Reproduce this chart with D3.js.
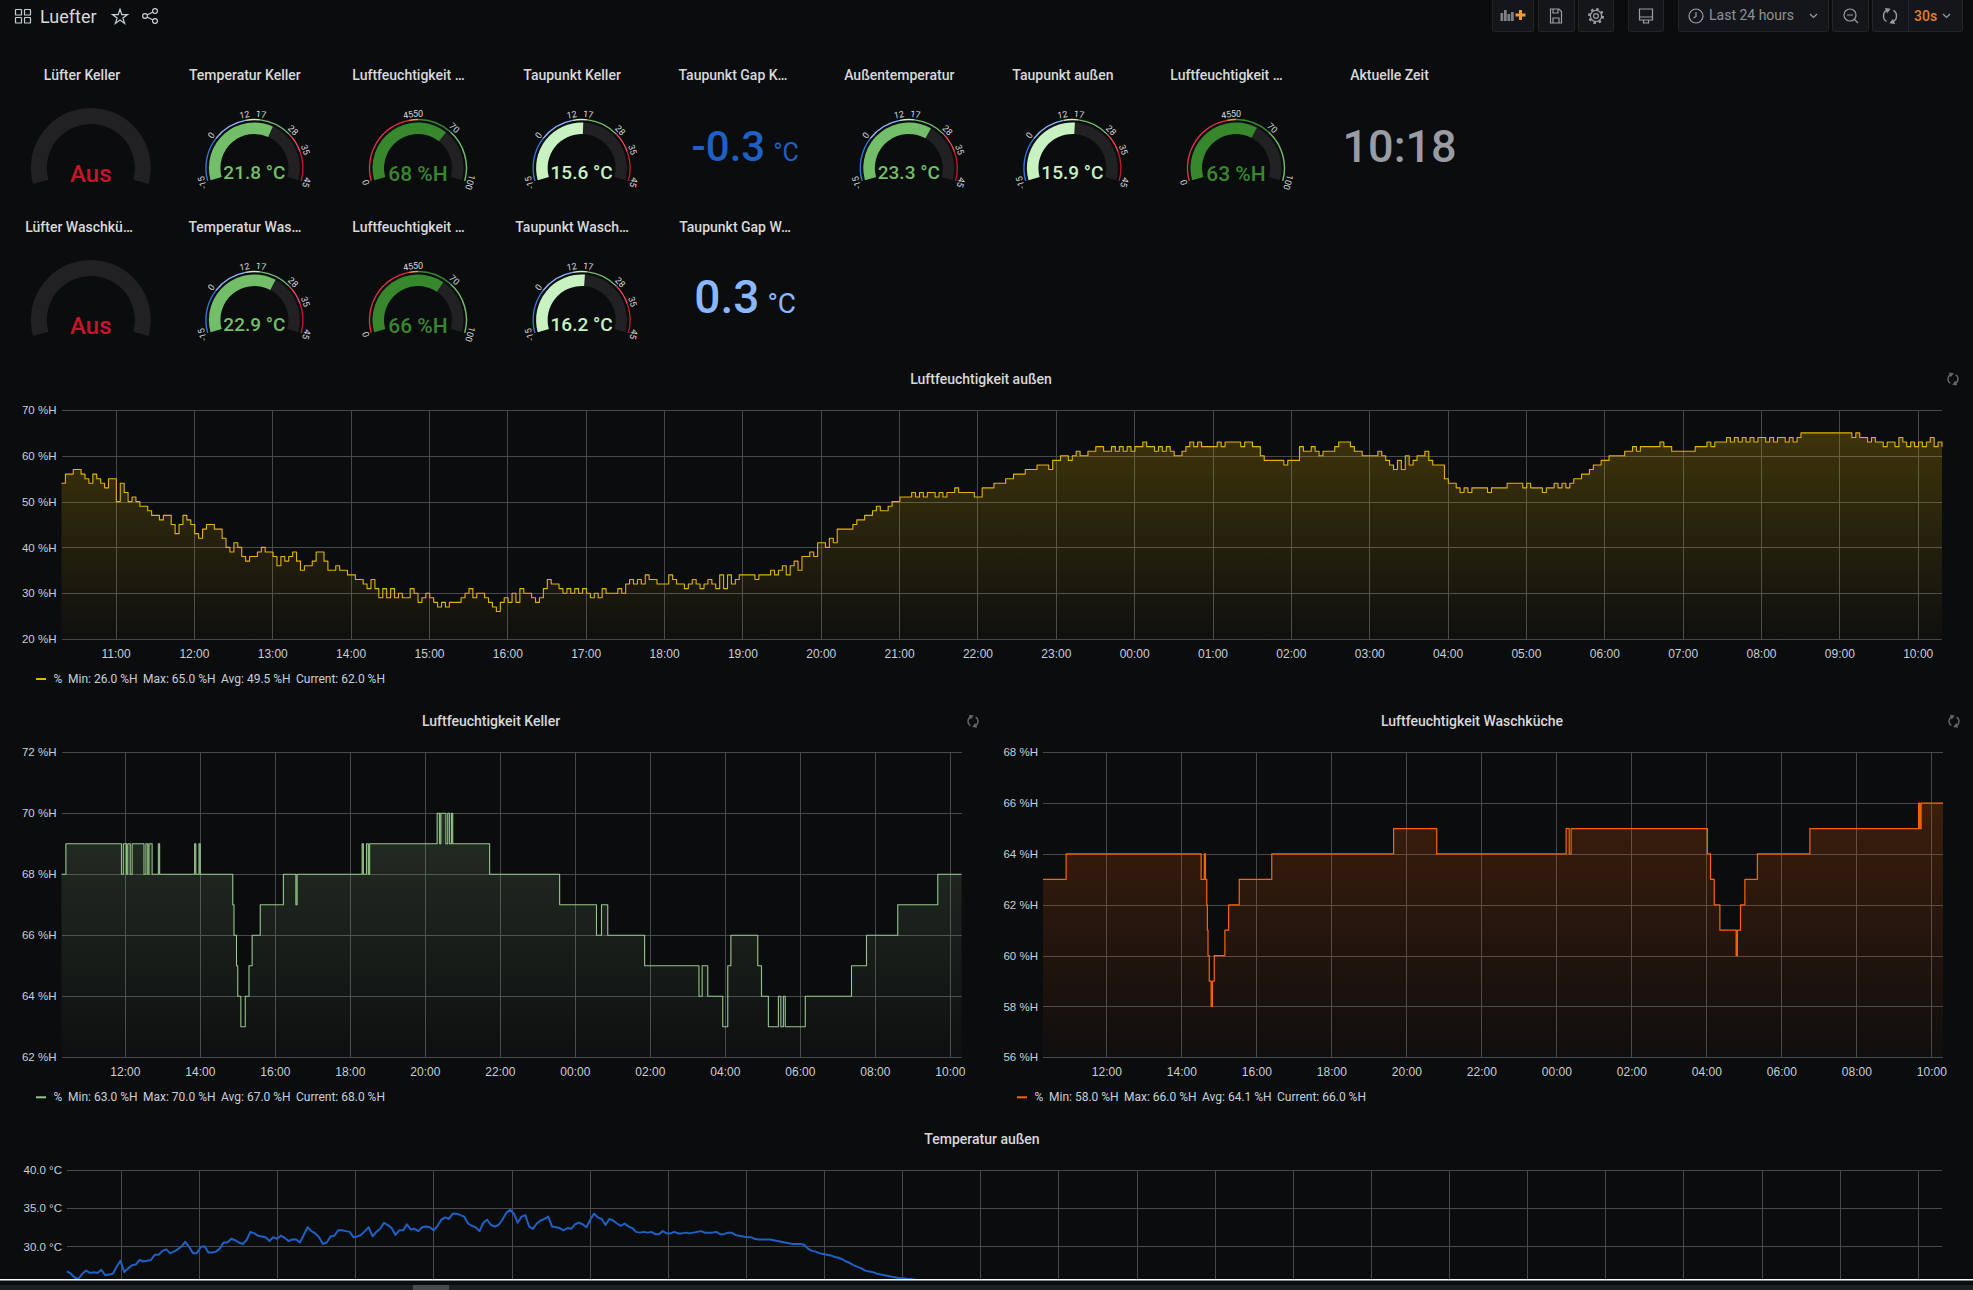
<!DOCTYPE html>
<html>
<head>
<meta charset="utf-8">
<title>Luefter</title>
<script src="https://d3js.org/d3.v7.min.js"></script>
<style>
  html, body { margin: 0; padding: 0; background: #0b0c0e; overflow: hidden; }
  svg { display: block; font-family: Roboto, sans-serif; }
  .grid line { stroke: #47494b; stroke-width: 1; shape-rendering: crispEdges; }
  .grid path { display: none; }
  .grid text { fill: #c7d0d9; font-size: 12px; }
  .grid.left text { font-size: 11.5px; }
</style>
</head>
<body>
<svg id="chart" width="1973" height="1290"></svg>
<script>
//fan gauges
const fanTitles = ["Lüfter Keller", "Lüfter Waschkü…"];
const fanStates = ["Aus", "Aus"];

//value gauges, column and row are the slot in the dashboard grid
const gaugeTitles = ["Temperatur Keller", "Luftfeuchtigkeit …", "Taupunkt Keller", "Außentemperatur", "Taupunkt außen", "Luftfeuchtigkeit …", "Temperatur Was…", "Luftfeuchtigkeit …", "Taupunkt Wasch…"];
const gaugeValues = [21.8, 68, 15.6, 23.3, 15.9, 63, 22.9, 66, 16.2];
const gaugeUnits = ["°C", "%H", "°C", "°C", "°C", "%H", "°C", "%H", "°C"];
const gaugeColumns = [1, 2, 3, 5, 6, 7, 1, 2, 3];
const gaugeRows = [0, 0, 0, 0, 0, 0, 1, 1, 1];

const tempThresholds = [-15, 0, 12, 17, 28, 35, 45];
const tempColors = ["#3274d9", "#8ab8ff", "#c8f2c2", "#73bf69", "#f2495c", "#c4162a"];
const humThresholds = [0, 45, 50, 70, 100];
const humColors = ["#e02f44", "#ff9830", "#37872d", "#73bf69"];

//plain stats
const gapTitles = ["Taupunkt Gap K…", "Taupunkt Gap W…"];
const gapValues = ["-0.3", "0.3"];
const clockTitle = "Aktuelle Zeit";
const clockValue = "10:18";

//legend
const legendLabels = ["Min", "Max", "Avg", "Current"];
const outsideStats = [26.0, 65.0, 49.5, 62.0];
const kellerStats = [63.0, 70.0, 67.0, 68.0];
const waschStats = [58.0, 66.0, 64.1, 66.0];

//Luftfeuchtigkeit außen, one reading every 3 minutes from 10:18
const outsideHumidity = [
  54,56,56,57,57,56,55,54,56,55,54,53,55,55,
  50,54,52,50,51,50,49,49,48,47,47,46,47,47,45,43,45,47,46,45,
  43,42,44,45,45,44,44,42,40,39,41,40,38,37,38,38,39,40,39,39,
  38,36,38,37,38,39,37,35,36,36,37,39,39,37,35,35,36,35,35,34,
  34,33,33,32,31,33,31,29,31,29,31,29,30,29,29,31,30,28,29,30,
  29,28,27,28,27,28,28,28,29,30,31,29,30,30,29,28,27,26,28,29,
  28,30,28,31,30,30,29,28,29,31,33,32,32,31,30,31,30,31,30,31,
  30,29,30,29,31,30,30,30,31,30,32,33,32,33,32,34,33,33,32,32,
  32,34,33,32,32,31,32,33,32,31,32,33,32,31,34,31,34,32,33,34,
  34,34,34,33,34,34,34,35,34,35,36,34,36,37,35,38,38,39,38,41,
  41,40,42,41,44,44,44,44,45,46,46,47,47,48,49,48,48,49,50,50,
  51,51,51,52,51,52,51,52,52,51,52,51,52,52,53,52,52,52,52,51,
  51,53,53,53,54,54,54,55,55,56,56,56,57,57,57,58,58,58,57,59,
  59,60,60,59,60,61,60,60,61,61,62,62,61,61,62,61,62,61,62,61,
  62,62,63,62,62,61,62,61,62,61,60,60,61,62,63,62,63,62,62,62,
  62,63,62,63,63,63,63,62,63,63,62,62,60,59,59,59,59,59,58,59,
  59,59,62,61,61,62,61,60,61,61,61,62,63,63,63,62,61,61,60,60,
  60,60,61,60,59,58,57,59,57,60,58,59,60,60,61,59,58,58,58,55,
  54,54,53,52,53,52,53,53,53,53,52,53,53,53,53,54,54,54,54,53,
  54,53,53,53,52,53,53,54,53,54,53,54,55,55,56,56,57,58,58,59,
  59,60,60,60,60,61,61,62,61,62,62,62,62,62,63,62,62,61,61,61,
  61,61,61,62,62,62,63,62,63,63,63,64,63,64,63,64,63,64,63,64,
  64,63,64,63,64,64,63,64,63,64,65,65,65,65,65,65,65,65,65,65,
  65,65,65,64,65,64,64,63,64,63,63,62,63,63,62,64,63,62,63,62,
  63,62,63,64,62,63,62
];

//Luftfeuchtigkeit Keller, only the changes: minutes after 10:18 and new value
const kellerMinutes = [0,7,96,99,104,106,110,113,132,135,138,140,145,155,157,213,215,220,222,274,276,280,282,287,294,300,305,318,355,375,377,481,483,488,491,493,601,605,607,615,618,621,624,626,685,797,856,864,874,933,1020,1025,1034,1058,1066,1071,1114,1120,1131,1147,1151,1155,1158,1190,1264,1288,1338,1402,1440];
const kellerValues = [68,69,68,69,68,69,68,69,68,69,68,69,68,69,68,69,68,69,68,67,66,65,64,63,64,65,66,67,68,67,68,69,68,69,68,69,70,69,70,69,70,69,70,69,68,67,66,67,66,65,64,65,64,63,65,66,65,64,63,64,63,64,63,64,65,66,67,68,68];

//Luftfeuchtigkeit Waschküche, same layout
const waschMinutes = [0,37,253,258,260,262,263,264,266,269,271,274,291,297,314,366,561,630,837,842,845,1063,1068,1074,1083,1109,1111,1116,1123,1143,1227,1401,1403,1405,1440];
const waschValues = [63,64,63,64,63,62,61,60,59,58,59,60,61,62,63,64,65,64,65,64,65,64,63,62,61,60,61,62,63,64,65,66,65,66,66];

//Temperatur außen, one reading every 176 seconds until it leaves the visible part
const outsideTemp = [
  26.7,26.4,25.9,25.7,26.4,26.8,26.5,26.6,26.5,26.9,26.2,26.3,26.4,27.3,28.1,26.6,27.1,27.5,27.6,28.2,
  28.0,28.1,28.2,28.9,28.9,29.4,29.6,29.1,29.3,29.6,30.0,30.6,29.9,29.1,29.1,29.9,30.0,29.2,29.2,29.3,
  29.7,30.5,30.5,31.0,30.8,30.5,30.3,30.8,31.9,31.7,31.4,31.3,31.2,30.7,31.2,31.0,31.4,31.1,30.7,30.9,
  30.9,30.5,31.5,32.5,32.0,31.7,31.2,30.3,30.5,31.3,31.4,32.1,32.1,32.0,31.9,31.2,31.3,31.5,32.0,32.5,
  31.3,31.9,32.3,33.1,32.8,32.4,31.5,32.1,32.1,32.9,32.2,32.3,32.0,32.5,32.6,32.5,32.1,32.7,33.5,33.8,
  33.6,34.3,34.3,34.1,33.9,33.0,32.7,32.5,32.0,33.1,33.5,32.8,32.6,32.8,33.5,34.4,34.8,34.3,33.1,33.9,
  34.1,32.6,32.3,33.0,33.4,33.6,33.9,32.6,32.5,32.4,32.1,32.4,32.3,32.9,33.1,32.9,32.5,33.5,34.3,33.8,
  33.6,32.8,33.6,33.4,33.0,32.7,33.0,32.6,32.4,31.9,31.8,31.9,31.8,31.9,31.6,31.6,32.0,31.7,31.7,31.9,
  31.7,31.7,31.8,31.7,31.8,31.9,32.0,31.8,31.8,31.8,31.9,31.6,31.6,31.8,31.8,31.5,31.4,31.3,31.2,31.2,
  31.0,30.9,30.9,30.9,30.9,30.8,30.7,30.6,30.5,30.4,30.3,30.3,30.3,30.2,29.7,29.4,29.3,29.1,29.0,28.9,
  28.8,28.6,28.5,28.3,28.0,27.8,27.5,27.3,27.1,26.8,26.7,26.6,26.4,26.3,26.2,26.1,26.0,25.9,25.8,25.8,
  25.7,25.7,25.6,25.5
];

const svg = d3.select("#chart");
const defs = svg.append("defs");

//time range of all the graphs
const start = new Date(2020, 6, 15, 10, 18, 36);
const end = new Date(2020, 6, 16, 10, 18, 36);
const afterStart = (seconds) => new Date(start.getTime() + seconds * 1000);

function titleText(x, y, text) {
  svg.append("text").attr("x", x).attr("y", y).attr("text-anchor", "middle")
    .attr("dominant-baseline", "central")
    .attr("fill", "#d8d9da").attr("font-size", 14).attr("font-weight", 500)
    .text(text);
}

//---- top of the dashboard ----
function iconStroke(g, color = "#9a9ea5") {
  return g.attr("fill", "none").attr("stroke", color).attr("stroke-width", 1.2);
}

function drawHeader() {
  //dashboard grid icon
  const grid = iconStroke(svg.append("g"), "#c7d0d9");
  [[15.5, 9.5], [24.5, 9.5], [15.5, 17.5], [24.5, 17.5]].forEach(([x, y]) => {
    grid.append("rect").attr("x", x).attr("y", y).attr("width", 6).attr("height", 5.5).attr("rx", 0.6);
  });

  svg.append("text").attr("x", 40).attr("y", 22.5).attr("fill", "#d8d9da")
    .attr("font-size", 18).text("Luefter");

  iconStroke(svg.append("path"), "#c7d0d9").attr("transform", "translate(120,17)")
    .attr("d", d3.symbol(d3.symbolStar, 70)());

  //share icon
  const share = iconStroke(svg.append("g").attr("transform", "translate(150,16)"), "#c7d0d9");
  [[-5, 0], [5, -5], [5, 5]].forEach(([x, y]) => share.append("circle").attr("cx", x).attr("cy", y).attr("r", 2.4));
  share.append("path").attr("d", "M-3,-1 L3,-4 M-3,1 L3,4");

  //toolbar boxes
  const boxes = [[1492, 41], [1538, 36], [1578, 35], [1628, 35], [1678, 150], [1832, 36], [1872, 90]];
  boxes.forEach(([x, w]) => {
    svg.append("rect").attr("x", x + 0.5).attr("y", -2).attr("width", w).attr("height", 33.5).attr("rx", 2)
      .attr("fill", "#141619").attr("stroke", "#232529");
  });
  svg.append("line").attr("x1", 1908.5).attr("x2", 1908.5).attr("y1", 0).attr("y2", 31).attr("stroke", "#232529");

  //add panel
  const add = svg.append("g").attr("transform", "translate(1512,16)");
  [[-11.5, -3, 8], [-8, -6, 11], [-4.5, -2, 7], [-1, -4, 9]].forEach(([x, y, h]) => {
    add.append("rect").attr("x", x).attr("y", y).attr("width", 2.7).attr("height", h).attr("fill", "#7f8388");
  });
  add.append("path").attr("d", "M8.5,-6 V4 M3.5,-1 H13.5").attr("stroke", "#f29a35").attr("stroke-width", 3);

  //save
  iconStroke(svg.append("path")).attr("transform", "translate(1556,16)")
    .attr("d", "M-5.5,-7 H3 L5.5,-4.5 V7 H-5.5 Z M-3,-7 V-3 H2 V-7 M-3,7 V2 H3 V7");

  //settings
  const gear = iconStroke(svg.append("g").attr("transform", "translate(1596,16)"));
  gear.append("circle").attr("r", 2.4);
  gear.append("circle").attr("r", 5.6);
  gear.append("circle").attr("r", 7).attr("stroke-dasharray", "2.6 2.9").attr("stroke-width", 2);

  //cycle view mode
  iconStroke(svg.append("path")).attr("transform", "translate(1646,16)")
    .attr("d", "M-6.5,-7 H6.5 V4 H-6.5 Z M-6.5,1 H6.5 M-2.5,4 V7 H2.5 V4");

  //time picker
  const clock = iconStroke(svg.append("g").attr("transform", "translate(1696,16)"));
  clock.append("circle").attr("r", 7);
  clock.append("path").attr("d", "M0,-4 V0.5 L-2.5,2");
  svg.append("text").attr("x", 1709).attr("y", 20).attr("fill", "#8e9298").attr("font-size", 14).text("Last 24 hours");
  iconStroke(svg.append("path")).attr("d", "M1810,14 l3.5,3.5 l3.5,-3.5");

  //zoom out
  const zoom = iconStroke(svg.append("g").attr("transform", "translate(1850,15)"));
  zoom.append("circle").attr("r", 6);
  zoom.append("path").attr("d", "M-3,0 H3 M4.5,4.5 L8,8");

  refreshIcon(1890, 16, 6.5, "#9a9ea5");
  svg.append("text").attr("x", 1914).attr("y", 21).attr("fill", "#e07f2c").attr("font-size", 14)
    .attr("font-weight", 500).text("30s");
  iconStroke(svg.append("path")).attr("d", "M1943,14 l3.5,3.5 l3.5,-3.5");
}

//two arcs chasing each other, arrow head at the end of each
function refreshIcon(x, y, r, color) {
  const g = svg.append("g").attr("transform", `translate(${x},${y})`);
  const arc = d3.arc().innerRadius(r - 0.7).outerRadius(r + 0.7);
  [[0.55, 2.75], [3.7, 5.9]].forEach(([from, to]) => {
    g.append("path").attr("d", arc({ startAngle: from, endAngle: to })).attr("fill", color);
    const deg = to * 180 / Math.PI;
    g.append("path").attr("fill", color)
      .attr("transform", `rotate(${deg}) translate(0,${-r}) rotate(90)`)
      .attr("d", d3.symbol(d3.symbolTriangle, r * 2.2)());
  });
}

//---- stat panels ----
const colX = (col) => 90.8 + 163.6 * col;
const rowY = (row) => 168 + 152 * row;
const titleY = (row) => 75 + 152 * row;
const sweep = Math.PI / 2 + 0.27;

function fanGauge(row) {
  const arc = d3.arc().innerRadius(44).outerRadius(60).startAngle(-sweep).endAngle(sweep);
  const cx = colX(0), cy = rowY(row);
  titleText(row === 0 ? 82 : 79, titleY(row), fanTitles[row]);
  svg.append("path").attr("transform", `translate(${cx},${cy})`).attr("d", arc()).attr("fill", "#212124");
  svg.append("text").attr("x", cx).attr("y", cy + 13.5).attr("text-anchor", "middle")
    .attr("fill", "#c4162a").attr("font-size", 24).attr("font-weight", 500).text(fanStates[row]);
}

function valueGauge(i) {
  const isTemp = gaugeUnits[i] === "°C";
  const steps = isTemp ? tempThresholds : humThresholds;
  const colors = isTemp ? tempColors : humColors;
  const value = gaugeValues[i];
  const cx = colX(gaugeColumns[i]), cy = rowY(gaugeRows[i]);
  const angle = d3.scaleLinear().domain([steps[0], steps[steps.length - 1]]).range([-sweep, sweep]);
  const color = colors[d3.bisectRight(steps, value) - 1];
  const g = svg.append("g").attr("transform", `translate(${cx},${cy})`);

  titleText(cx - 9.5, titleY(gaugeRows[i]), gaugeTitles[i]);

  //bar with its background
  const bar = d3.arc().innerRadius(34).outerRadius(45.5);
  g.append("path").attr("d", bar({ startAngle: -sweep, endAngle: sweep })).attr("fill", "#212124");
  g.append("path").attr("d", bar({ startAngle: -sweep, endAngle: angle(value) })).attr("fill", color);

  //thin threshold ring
  const ring = d3.arc().innerRadius(47.8).outerRadius(49.2);
  colors.forEach((c, k) => {
    g.append("path").attr("d", ring({ startAngle: angle(steps[k]), endAngle: angle(steps[k + 1]) })).attr("fill", c);
  });

  //threshold labels follow the ring
  steps.forEach((s) => {
    const a = angle(s);
    g.append("text").attr("text-anchor", "middle").attr("dominant-baseline", "central")
      .attr("transform", `rotate(${a * 180 / Math.PI}) translate(0,-54)`)
      .attr("fill", "#d8d9da").attr("font-size", 9).text(s);
  });

  const size = isTemp ? 19 : 21;
  const label = isTemp ? value.toFixed(1) : value;
  g.append("text").attr("y", isTemp ? 11 : 13).attr("text-anchor", "middle").attr("fill", color)
    .attr("font-size", size).attr("font-weight", 500).text(`${label} ${gaugeUnits[i]}`);
}

function bigStat(row, color, size, unitSize, baseY) {
  titleText(row === 0 ? 733 : 735, titleY(row), gapTitles[row]);
  const t = svg.append("text").attr("x", colX(4)).attr("y", baseY).attr("text-anchor", "middle")
    .attr("fill", color).attr("font-weight", 500);
  t.append("tspan").attr("font-size", size).text(gapValues[row]);
  t.append("tspan").attr("font-size", unitSize).attr("dx", 8).attr("font-weight", 400).text("°C");
}

//---- graph panels ----
function graphPanel(cfg) {
  const x = d3.scaleTime().domain([start, end]).range([cfg.left, cfg.right]);
  const y = d3.scaleLinear().domain(cfg.yDomain).range([cfg.bottom, cfg.top]);

  titleText(cfg.titleX, cfg.top - 31, cfg.title);
  if (cfg.refreshX) refreshIcon(cfg.refreshX, cfg.top - 31, 5, "#64666a");

  //gridlines come with the axes
  svg.append("g").attr("class", "grid")
    .attr("transform", `translate(0,${cfg.bottom})`)
    .call(d3.axisBottom(x).ticks(d3.timeHour.every(cfg.hourStep))
      .tickFormat(cfg.xLabels === false ? "" : d3.timeFormat("%H:%M"))
      .tickSize(-(cfg.bottom - cfg.top)).tickPadding(10));
  svg.append("g").attr("class", "grid left")
    .attr("transform", `translate(${cfg.left},0)`)
    .call(d3.axisLeft(y).tickValues(cfg.yTicks).tickFormat(cfg.yFormat)
      .tickSize(-(cfg.right - cfg.left)).tickPadding(5));

  const points = cfg.points;
  if (cfg.fillTop) {
    const id = `fill-${cfg.color.slice(1)}`;
    const grad = defs.append("linearGradient").attr("id", id).attr("gradientUnits", "userSpaceOnUse")
      .attr("x1", 0).attr("x2", 0).attr("y1", cfg.top).attr("y2", cfg.bottom);
    grad.append("stop").attr("offset", 0).attr("stop-color", cfg.color).attr("stop-opacity", cfg.fillTop);
    grad.append("stop").attr("offset", 1).attr("stop-color", cfg.color).attr("stop-opacity", 0.02);
    svg.append("path").datum(points).attr("fill", `url(#${id})`)
      .attr("d", d3.area().curve(d3.curveStepAfter).x((d) => x(d.t)).y0(cfg.bottom).y1((d) => y(d.v)));
  }

  svg.append("path").datum(points).attr("fill", "none").attr("stroke", cfg.color)
    .attr("stroke-width", cfg.lineWidth).attr("stroke-linejoin", "round")
    .attr("d", d3.line().curve(cfg.fillTop ? d3.curveStepAfter : d3.curveLinear).x((d) => x(d.t)).y((d) => y(d.v)));

  if (cfg.stats) {
    const lx = cfg.legendX, ly = cfg.bottom + 40;
    svg.append("line").attr("x1", lx).attr("x2", lx + 10).attr("y1", ly).attr("y2", ly)
      .attr("stroke", cfg.color).attr("stroke-width", 2);
    const legend = (dx, text) => svg.append("text").attr("x", lx + dx).attr("y", ly + 4)
      .attr("fill", "#c7d0d9").attr("font-size", 12).text(text);
    legend(17.5, "%");
    [32, 107, 185, 260].forEach((dx, i) => legend(dx, `${legendLabels[i]}: ${cfg.stats[i].toFixed(1)} %H`));
  }
}

drawHeader();

fanStates.forEach((s, row) => fanGauge(row));
gaugeValues.forEach((v, i) => valueGauge(i));

bigStat(0, "#1f60c4", 42, 25, 161);
bigStat(1, "#8ab8ff", 46, 28, 313);

titleText(1389.5, titleY(0), clockTitle);
svg.append("text").attr("x", colX(8)).attr("y", 162).attr("text-anchor", "middle")
  .attr("fill", "#9a9ca3").attr("font-size", 45).attr("font-weight", 500).text(clockValue);

const percent = (d) => `${d} %H`;

graphPanel({
  title: "Luftfeuchtigkeit außen", titleX: 981, refreshX: 1953,
  left: 61.5, right: 1942, top: 410, bottom: 639, hourStep: 1,
  yDomain: [20, 70], yTicks: [20, 30, 40, 50, 60, 70], yFormat: percent,
  points: outsideHumidity.map((v, i) => ({ t: afterStart(i * 180), v })),
  color: "#e0b400", lineWidth: 1.1, fillTop: 0.26, stats: outsideStats, legendX: 36,
});

graphPanel({
  title: "Luftfeuchtigkeit Keller", titleX: 491, refreshX: 973,
  left: 61.5, right: 961.5, top: 752.3, bottom: 1057.3, hourStep: 2,
  yDomain: [62, 72], yTicks: [62, 64, 66, 68, 70, 72], yFormat: percent,
  points: kellerMinutes.map((m, i) => ({ t: afterStart(m * 60), v: kellerValues[i] })),
  color: "#96c58a", lineWidth: 1.1, fillTop: 0.22, stats: kellerStats, legendX: 36,
});

graphPanel({
  title: "Luftfeuchtigkeit Waschküche", titleX: 1472, refreshX: 1954,
  left: 1043, right: 1943, top: 752.3, bottom: 1057.3, hourStep: 2,
  yDomain: [56, 68], yTicks: [56, 58, 60, 62, 64, 66, 68], yFormat: percent,
  points: waschMinutes.map((m, i) => ({ t: afterStart(m * 60), v: waschValues[i] })),
  color: "#fa6400", lineWidth: 1.2, fillTop: 0.24, stats: waschStats, legendX: 1017,
});

//only the upper part of this panel fits the window, so it has no time labels
graphPanel({
  title: "Temperatur außen", titleX: 982,
  left: 67, right: 1942, top: 1170.3, bottom: 1279, hourStep: 1, xLabels: false,
  yDomain: [25.7, 40], yTicks: [30, 35, 40], yFormat: (d) => `${d.toFixed(1)} °C`,
  points: outsideTemp.map((v, i) => ({ t: afterStart(i * 176), v })),
  color: "#1f60c4", lineWidth: 2,
});

//edge of the window and the scrollbar
svg.append("rect").attr("x", 0).attr("y", 1279).attr("width", 1973).attr("height", 11).attr("fill", "#0b0c0e");
svg.append("rect").attr("x", 0).attr("y", 1279).attr("width", 1973).attr("height", 1.5).attr("fill", "#ffffff");
svg.append("rect").attr("x", 0).attr("y", 1285).attr("width", 1973).attr("height", 5).attr("fill", "#1f1f20");
svg.append("rect").attr("x", 413).attr("y", 1285).attr("width", 36).attr("height", 5).attr("fill", "#4a4a4b");
</script>
</body>
</html>
